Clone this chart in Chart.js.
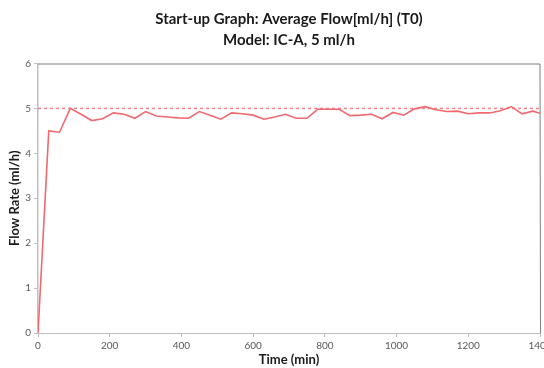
<!DOCTYPE html>
<html>
<head>
<meta charset="utf-8">
<script src="https://cdn.jsdelivr.net/npm/chart.js@4/dist/chart.umd.min.js"></script>
<style>
  html, body { margin: 0; padding: 0; background: #fff; }
  #wrap { width: 544px; height: 368px; }
</style>
</head>
<body>
<div id="wrap"><canvas id="flow-chart" width="544" height="368"></canvas></div>
<script>
    // time in minutes, one reading every 30 min
    var times = [0, 30, 60, 90, 120, 150, 180, 210, 240, 270, 300, 330, 360, 390, 420, 450,
        480, 510, 540, 570, 600, 630, 660, 690, 720, 750, 780, 810, 840, 870, 900, 930, 960,
        990, 1020, 1050, 1080, 1110, 1140, 1170, 1200, 1230, 1260, 1290, 1320, 1350, 1380, 1400];
    // average flow (ml/h)
    var avgFlow = [0, 4.50, 4.47, 5.00, 4.87, 4.73, 4.77, 4.90, 4.87, 4.78, 4.93, 4.83, 4.81, 4.79, 4.78, 4.93,
        4.85, 4.76, 4.90, 4.88, 4.85, 4.76, 4.81, 4.87, 4.78, 4.78, 4.98, 4.98, 4.98, 4.84, 4.85, 4.87, 4.77,
        4.91, 4.85, 4.99, 5.04, 4.97, 4.93, 4.94, 4.88, 4.90, 4.90, 4.95, 5.04, 4.88, 4.94, 4.89];
    var setFlow = 5;

    var xTicks = [0, 200, 400, 600, 800, 1000, 1200, 1400];
    var yTicks = [0, 1, 2, 3, 4, 5, 6];

    var flowPoints = times.map(function (t, i) { return { x: t, y: avgFlow[i] }; });
    var setPoints = [{ x: 0, y: setFlow }, { x: 1400, y: setFlow }];

    var tickColor = "#595959";
    var axisColor = "#bfbfbf";

    // top and right edge of the plot frame
    var frameLines = {
        id: "frameLines",
        afterDatasetsDraw: function (chart) {
            var a = chart.chartArea, c = chart.ctx;
            c.save();
            c.strokeStyle = "#7f7f7f";
            c.lineWidth = 1;
            c.beginPath();
            c.moveTo(a.left, a.top + 0.5);
            c.lineTo(a.right, a.top + 0.5);
            c.lineTo(a.right + 0.5, a.bottom);
            c.stroke();
            c.restore();
        }
    };

    var ctx = document.getElementById("flow-chart").getContext("2d");

    var flowChart = new Chart(ctx, {
        type: "line",
        data: {
            datasets: [
                {
                    label: "Set flow",
                    data: setPoints,
                    borderColor: "rgba(242, 110, 118, 0.85)",
                    borderWidth: 1.5,
                    borderDash: [3, 3],
                    pointRadius: 0,
                    fill: false
                },
                {
                    label: "Average flow",
                    data: flowPoints,
                    borderColor: "rgb(242, 104, 112)",
                    borderWidth: 1.6,
                    pointRadius: 0,
                    tension: 0,
                    fill: false
                }
            ]
        },
        plugins: [frameLines],
        options: {
            responsive: false,
            animation: false,
            layout: { padding: { top: 8, left: 4, right: 4, bottom: 0 } },
            plugins: {
                legend: { display: false },
                tooltip: { enabled: false },
                title: {
                    display: true,
                    fullSize: false,
                    text: ["Start-up Graph: Average Flow[ml/h] (T0)", "Model: IC-A, 5 ml/h"],
                    color: "#1a1a1a",
                    font: { family: "Lato", size: 15, weight: "bold", lineHeight: 1.45 },
                    padding: { top: 0, bottom: 12 }
                }
            },
            scales: {
                x: {
                    type: "linear",
                    min: 0,
                    max: 1400,
                    afterBuildTicks: function (s) { s.ticks = xTicks.map(function (v) { return { value: v }; }); },
                    afterFit: function (s) { s.paddingRight = 0; s.paddingLeft = 0; s.height = 35; },
                    grid: { drawOnChartArea: false, color: axisColor, tickLength: 4 },
                    border: { color: axisColor, width: 1 },
                    ticks: {
                        color: tickColor, font: { family: "Lato", size: 10 }, padding: 3, maxRotation: 0,
                        callback: function (v) { return String(v); }
                    },
                    title: {
                        display: true,
                        text: "Time (min)",
                        color: "#1a1a1a",
                        font: { family: "Lato", size: 13, weight: "bold" },
                        padding: { top: 2, bottom: 0 }
                    }
                },
                y: {
                    min: 0,
                    max: 6,
                    afterBuildTicks: function (s) { s.ticks = yTicks.map(function (v) { return { value: v }; }); },
                    afterFit: function (s) { s.width = 34; },
                    grid: { drawOnChartArea: false, color: axisColor, tickLength: 4 },
                    border: { color: axisColor, width: 1.5 },
                    ticks: { color: tickColor, font: { family: "Lato", size: 10 }, padding: 3 },
                    title: {
                        display: true,
                        text: "Flow Rate (ml/h)",
                        color: "#1a1a1a",
                        font: { family: "Lato", size: 13, weight: "bold" },
                        padding: { top: 3, bottom: 0 }
                    }
                }
            }
        }
    });
</script>
</body>
</html>
